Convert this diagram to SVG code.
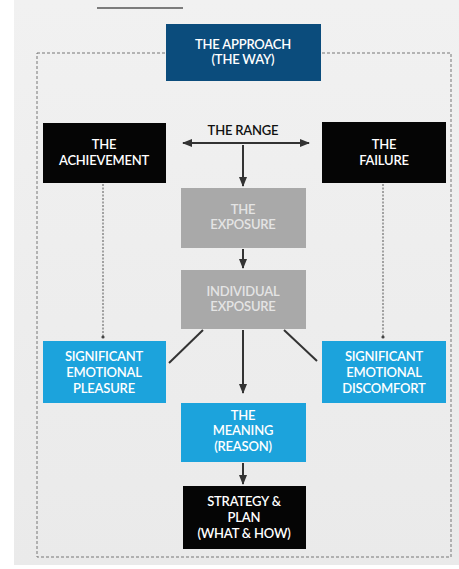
<svg xmlns="http://www.w3.org/2000/svg" width="459" height="569" viewBox="0 0 459 569">
<defs>
<marker id="ah" viewBox="0 0 10 10" refX="9" refY="5" markerWidth="5" markerHeight="5" orient="auto-start-reverse"><path d="M0,1 L10,5 L0,9 z" fill="#333"/></marker>
<marker id="dot" viewBox="0 0 10 10" refX="5" refY="5" markerWidth="4" markerHeight="4"><circle cx="5" cy="5" r="4" fill="#444"/></marker>
<linearGradient id="bg" x1="0" y1="0" x2="0" y2="1"><stop offset="0" stop-color="#f1f1f1"/><stop offset="1" stop-color="#eaeaea"/></linearGradient>
</defs>
<style>
.t{font-family:Lato,"Open Sans","Liberation Sans",sans-serif;font-size:13px;fill:#fff;text-anchor:middle;font-weight:600;letter-spacing:-0.2px}
.tg{fill:#e4e4e4}
.blk{fill:#050505}
.dk{fill:#0b4c7c}
.lb{fill:#1ca3dc}
.gr{fill:#a9a9a9}
.ln{stroke:#333;stroke-width:2;fill:none}
.dl{stroke:#555;stroke-width:1;stroke-dasharray:2 1.5;fill:none}
</style>
<rect x="0" y="0" width="459" height="569" fill="#fff"/>
<rect x="14" y="0" width="445" height="565" fill="url(#bg)"/>
<line x1="97" y1="8" x2="183" y2="8" stroke="#555" stroke-width="1.5"/>
<rect x="37" y="53" width="414" height="504" fill="none" stroke="#777" stroke-width="1" stroke-dasharray="3 2"/>
<g id="connectors">
<line class="ln" x1="183" y1="143" x2="309" y2="143" marker-start="url(#ah)" marker-end="url(#ah)" stroke-width="1.5"/>
<line class="ln" x1="243" y1="145" x2="243" y2="186" marker-end="url(#ah)"/>
<line class="ln" x1="243" y1="249" x2="243" y2="268" marker-end="url(#ah)"/>
<line class="ln" x1="243" y1="330" x2="243" y2="393" marker-end="url(#ah)"/>
<line class="ln" x1="243" y1="463" x2="243" y2="484" marker-end="url(#ah)"/>
<line class="ln" x1="203" y1="330" x2="169" y2="363"/>
<line class="ln" x1="284" y1="330" x2="317" y2="361"/>
<line class="dl" x1="103" y1="184" x2="103" y2="337" marker-end="url(#dot)"/>
<line class="dl" x1="383" y1="184" x2="383" y2="337" marker-end="url(#dot)"/>
</g>
<g id="approach"><rect class="dk" x="166" y="24" width="155" height="57"/><text class="t" x="243" y="49">THE APPROACH</text><text class="t" x="243" y="64">(THE WAY)</text></g>
<g id="range"><text class="t" x="243" y="135" style="fill:#111">THE RANGE</text></g>
<g id="achievement"><rect class="blk" x="43" y="123" width="123" height="60"/><text class="t" x="104" y="149">THE</text><text class="t" x="104" y="165">ACHIEVEMENT</text></g>
<g id="failure"><rect class="blk" x="322" y="122" width="124" height="61"/><text class="t" x="384" y="149">THE</text><text class="t" x="384" y="165">FAILURE</text></g>
<g id="exposure"><rect class="gr" x="181" y="188" width="125" height="60"/><text class="t tg" x="243" y="214">THE</text><text class="t tg" x="243" y="229">EXPOSURE</text></g>
<g id="individual"><rect class="gr" x="181" y="270" width="125" height="59"/><text class="t tg" x="243" y="296">INDIVIDUAL</text><text class="t tg" x="243" y="311">EXPOSURE</text></g>
<g id="pleasure"><rect class="lb" x="43" y="341" width="123" height="62"/><text class="t" x="104" y="361">SIGNIFICANT</text><text class="t" x="104" y="377">EMOTIONAL</text><text class="t" x="104" y="393">PLEASURE</text></g>
<g id="discomfort"><rect class="lb" x="322" y="341" width="124" height="62"/><text class="t" x="384" y="361">SIGNIFICANT</text><text class="t" x="384" y="377">EMOTIONAL</text><text class="t" x="384" y="393">DISCOMFORT</text></g>
<g id="meaning"><rect class="lb" x="181" y="403" width="125" height="59"/><text class="t" x="243" y="420">THE</text><text class="t" x="243" y="435">MEANING</text><text class="t" x="243" y="451">(REASON)</text></g>
<g id="strategy"><rect class="blk" x="183" y="486" width="123" height="63"/><text class="t" x="244" y="506">STRATEGY &amp;</text><text class="t" x="244" y="522">PLAN</text><text class="t" x="244" y="538">(WHAT &amp; HOW)</text></g>
</svg>
